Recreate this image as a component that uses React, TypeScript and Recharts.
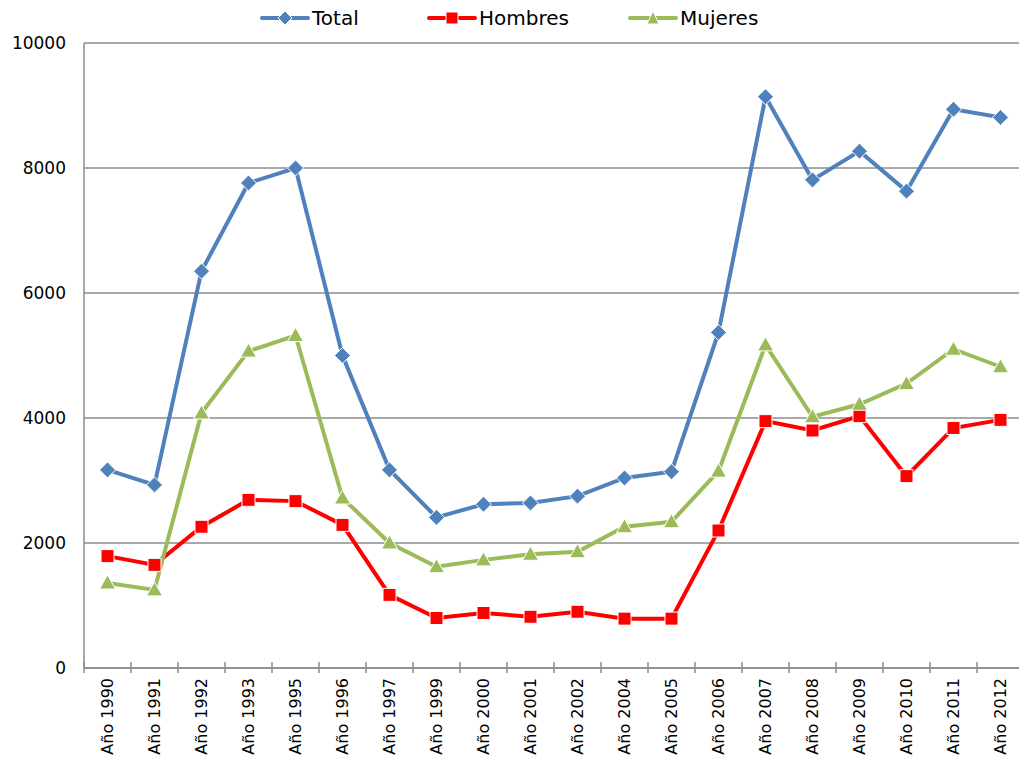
import { LineChart, Line, XAxis, YAxis, CartesianGrid } from "recharts"

const years = ["Año 1990", "Año 1991", "Año 1992", "Año 1993", "Año 1995", "Año 1996", "Año 1997", "Año 1999", "Año 2000", "Año 2001", "Año 2002", "Año 2004", "Año 2005", "Año 2006", "Año 2007", "Año 2008", "Año 2009", "Año 2010", "Año 2011", "Año 2012"]
const total = [3170, 2930, 6350, 7760, 8000, 5000, 3170, 2410, 2620, 2640, 2750, 3040, 3140, 5370, 9140, 7810, 8270, 7630, 8940, 8810]
const hombres = [1790, 1650, 2260, 2690, 2670, 2290, 1170, 800, 880, 820, 900, 790, 790, 2200, 3950, 3800, 4030, 3070, 3840, 3970]
const mujeres = [1360, 1250, 4080, 5070, 5320, 2720, 2000, 1620, 1730, 1820, 1860, 2260, 2340, 3150, 5170, 4020, 4220, 4550, 5100, 4820]
const yTicks = [0, 2000, 4000, 6000, 8000, 10000]

const data = years.map((name, i) => ({ name, total: total[i], hombres: hombres[i], mujeres: mujeres[i] }))

const FONT = "'DejaVu Sans', sans-serif"
const BLUE = "#4F81BD"
const RED = "#FF0000"
const GREEN = "#9BBB59"
const GRID = "#8c8c8c"

const CHART_W = 1030
const PLOT_W = 940
const HALF_BAND = PLOT_W / years.length / 2

function Diamond(props: any) {
  const { cx, cy, index } = props
  const r = 8
  return <path key={"d" + index} d={`M${cx},${cy - r}L${cx + r},${cy}L${cx},${cy + r}L${cx - r},${cy}Z`} fill={BLUE} stroke="#fff" strokeWidth={1} />
}

function Square(props: any) {
  const { cx, cy, index } = props
  const s = 6.5
  return <rect key={"s" + index} x={cx - s} y={cy - s} width={s * 2} height={s * 2} fill={RED} stroke="#fff" strokeWidth={1} />
}

function Triangle(props: any) {
  const { cx, cy, index } = props
  return <path key={"t" + index} d={`M${cx},${cy - 8}L${cx + 8},${cy + 6}L${cx - 8},${cy + 6}Z`} fill={GREEN} stroke="#fff" strokeWidth={1} />
}

function XTick(props: any) {
  const { x, y, payload, index } = props
  return (
    <g>
      {index === 0 && <line x1={x - HALF_BAND} x2={x - HALF_BAND} y1={y - 6} y2={y + 5} stroke={GRID} strokeWidth={1.5} />}
      <line x1={x + HALF_BAND} x2={x + HALF_BAND} y1={y - 6} y2={y + 5} stroke={GRID} strokeWidth={1.5} />
      <text x={0} y={0} transform={`translate(${x},${y + 10}) rotate(-90)`} textAnchor="end" dominantBaseline="central" fontFamily={FONT} fontSize={16} fill="#000">
        {payload.value}
      </text>
    </g>
  )
}

const legendItems = [
  { label: "Total", color: BLUE, left: 260, marker: "diamond" },
  { label: "Hombres", color: RED, left: 427, marker: "square" },
  { label: "Mujeres", color: GREEN, left: 628, marker: "triangle" },
]

function LegendIcon({ color, marker }: { color: string; marker: string }) {
  return (
    <svg width={50} height={16} style={{ display: "block" }}>
      <line x1={2} x2={48} y1={8} y2={8} stroke={color} strokeWidth={4} strokeLinecap="round" />
      {marker === "diamond" && <path d="M25,1L32,8L25,15L18,8Z" fill={color} stroke="#fff" strokeWidth={1} />}
      {marker === "square" && <rect x={19} y={2} width={12} height={12} fill={color} stroke="#fff" strokeWidth={1} />}
      {marker === "triangle" && <path d="M25,1L31,14L19,14Z" fill={color} stroke="#fff" strokeWidth={1} />}
    </svg>
  )
}

export default function App() {
  return (
    <div style={{ position: "absolute", top: 0, left: 0, width: 1019, height: 771, overflow: "hidden", background: "#fff" }}>
      {legendItems.map((it) => (
        <div key={it.label} style={{ position: "absolute", top: 6, left: it.left, display: "flex", alignItems: "center", fontFamily: FONT, fontSize: 20, color: "#000", lineHeight: "24px" }}>
          <LegendIcon color={it.color} marker={it.marker} />
          <span style={{ marginLeft: 2 }}>{it.label}</span>
        </div>
      ))}
      <LineChart width={CHART_W} height={771} data={data} margin={{ top: 43, right: 6, bottom: 0, left: 0 }}>
        <CartesianGrid vertical={false} stroke={GRID} strokeWidth={1.5} />
        <XAxis dataKey="name" height={103} interval={0} padding={{ left: HALF_BAND, right: HALF_BAND }} tickLine={false} tickSize={0} tickMargin={0} stroke={GRID} strokeWidth={1.5} tick={<XTick />} />
        <YAxis width={84} domain={[0, 10000]} ticks={yTicks} tickLine={false} tickSize={0} tickMargin={18} stroke={GRID} strokeWidth={1.5} tick={{ fill: "#000", fontFamily: FONT, fontSize: 17 }} />
        <Line dataKey="total" stroke={BLUE} strokeWidth={4} dot={Diamond} activeDot={false} isAnimationActive={false} />
        <Line dataKey="hombres" stroke={RED} strokeWidth={4} dot={Square} activeDot={false} isAnimationActive={false} />
        <Line dataKey="mujeres" stroke={GREEN} strokeWidth={4} dot={Triangle} activeDot={false} isAnimationActive={false} />
      </LineChart>
    </div>
  )
}
